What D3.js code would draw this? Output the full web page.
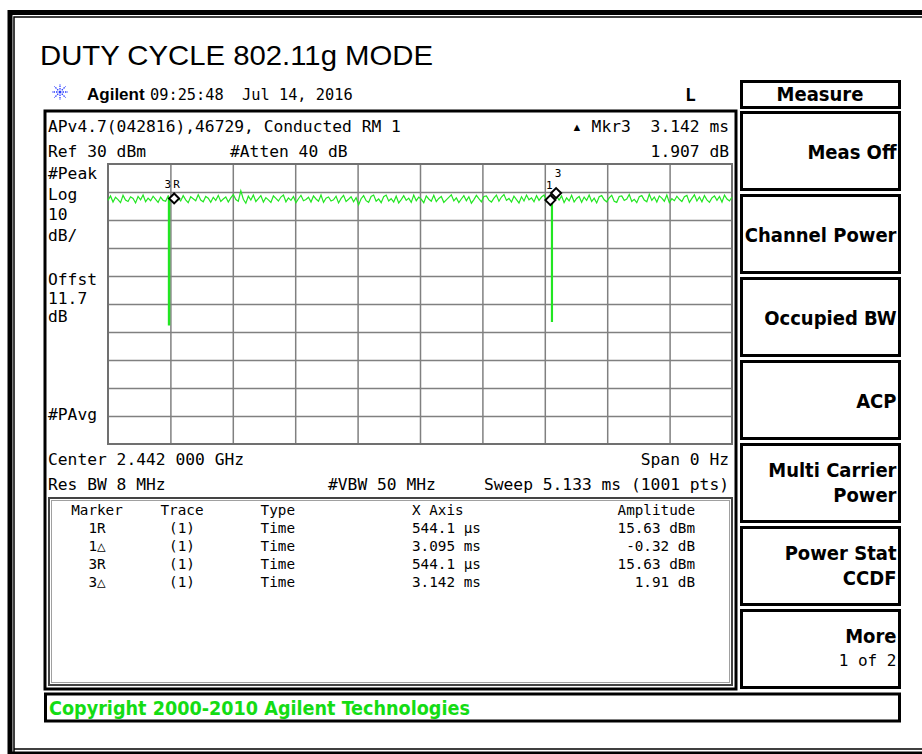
<!DOCTYPE html>
<html>
<head>
<meta charset="utf-8" />
<style>
  body { margin: 0; background: #fff; }
  svg { display: block; }
  .mono { font-family: "DejaVu Sans Mono", monospace; fill: #000; }
  .key { font-family: "DejaVu Sans Condensed", "DejaVu Sans", sans-serif; font-weight: bold; font-stretch: condensed; }
  .grid line { stroke: #808080; stroke-width: 1.5; }
  .grid path { display: none; }
</style>
</head>
<body>
<svg width="922" height="754"></svg>
<script src="https://cdn.jsdelivr.net/npm/d3@7"></script>
<script>
// sweep / display settings
var sweepUs = 5133;
var refLevel = 30;
var dbPerDiv = 10;
var divisions = 10;

// trace levels (dBm, display), evenly spaced over the sweep
var traceLevels = [
  17.0,18.6,16.4,18.1,17.3,16.2,18.8,17.1,16.6,18.3,
  17.7,16.1,18.4,17.2,18.9,16.5,17.8,16.9,18.5,17.4,
  16.3,18.2,17.0,16.7,18.6,17.5,16.4,18.0,17.9,16.8,
  18.7,17.2,16.2,18.3,17.6,16.9,19.0,17.1,16.5,18.4,
  17.8,16.3,18.1,17.0,18.8,16.6,17.5,18.2,16.4,17.9,
  19.1,17.3,16.7,20.4,17.4,16.0,18.5,17.1,18.9,16.6,
  17.6,18.7,16.4,18.0,17.2,16.3,18.6,17.7,16.8,18.2,
  18.9,16.5,17.9,17.0,18.4,16.2,17.6,18.8,16.9,17.3,
  18.1,16.4,18.6,17.5,16.7,18.9,16.3,17.8,18.2,16.8,
  17.2,18.5,16.1,17.7,18.8,16.6,17.4,18.3,16.5,18.0,
  15.4,17.6,18.7,16.9,16.3,18.4,18.9,16.7,17.5,16.2,
  18.3,18.9,16.8,17.6,16.4,18.5,16.1,17.3,18.7,17.0,
  17.8,16.3,18.9,16.9,18.2,17.4,16.2,18.6,17.5,16.7,
  18.8,16.6,17.7,18.4,16.3,17.2,18.1,19.0,16.8,17.9,
  16.2,17.5,18.7,16.9,18.3,16.0,17.3,18.8,17.6,16.5,
  18.4,18.6,17.1,16.4,17.8,18.9,16.7,18.2,19.1,17.0,
  17.7,16.4,18.5,17.3,16.1,18.3,16.8,18.9,17.2,17.9,
  16.5,18.7,17.0,18.2,18.9,16.6,17.6,19.6,17.3,18.5,
  17.1,18.6,16.2,17.9,16.8,18.8,16.4,17.7,18.4,16.3,
  18.2,17.0,18.9,16.6,17.8,16.1,18.3,18.7,17.2,16.5,
  17.9,18.8,16.7,16.3,18.4,18.6,17.0,17.5,19.1,16.6,
  17.4,16.2,18.3,18.7,17.1,16.5,19.2,17.0,18.2,16.4,
  18.6,17.8,16.7,18.9,16.2,17.6,16.9,18.5,17.4,16.6,
  18.3,18.8,16.3,17.7,19.0,16.8,18.2,16.5,18.7,17.2,
  16.3,17.9,18.6,17.0,18.4,16.4,18.9,17.5,16.8,18.2
];

// off-time gaps of the burst (us) and how deep they drop (dBm)
var gapStart = [497, 3648];
var gapEnd = [507, 3656];
var gapFloor = [-27.5, -26.4];

// markers on the trace
var markerTimes = [544.1, 3639.2, 3686.1];
var markerLevels = [17.7, 17.1, 19.6];
var markerTags = ["3R", "1", "3"];

// marker table
var tableHead = ["Marker", "Trace", "Type", "X Axis", "Amplitude"];
var tableMarker = ["1R", "1\u25B3", "3R", "3\u25B3"];
var tableTrace = ["(1)", "(1)", "(1)", "(1)"];
var tableType = ["Time", "Time", "Time", "Time"];
var tableX = ["544.1 \u00B5s", "3.095 ms", "544.1 \u00B5s", "3.142 ms"];
var tableAmp = ["15.63 dBm", "-0.32 dB", "15.63 dBm", "1.91 dB"];

var softkeys = [["Meas Off"], ["Channel Power"], ["Occupied BW"], ["ACP"],
                ["Multi Carrier", "Power"], ["Power Stat", "CCDF"], ["More", "1 of 2"]];

var svg = d3.select("svg");

// outer page border
svg.append("rect").attr("x", 0).attr("y", 0).attr("width", 922).attr("height", 754).attr("fill", "#fff");
svg.append("path").attr("d", "M10,754 V12.5 H922").attr("fill", "none").attr("stroke", "#000").attr("stroke-width", 5);
svg.append("path").attr("d", "M14,754 V17 H922").attr("fill", "none").attr("stroke", "#000").attr("stroke-width", 1.5);
svg.append("line").attr("x1", 14).attr("x2", 922).attr("y1", 749).attr("y2", 749).attr("stroke", "#000").attr("stroke-width", 1.5);
svg.append("line").attr("x1", 10).attr("x2", 922).attr("y1", 753).attr("y2", 753).attr("stroke", "#000").attr("stroke-width", 3);

svg.append("text").attr("x", 40).attr("y", 65)
    .style("font-family", "'Liberation Sans', Arial, sans-serif").style("font-size", "28.5px")
    .attr("textLength", 393).attr("lengthAdjust", "spacingAndGlyphs")
    .text("DUTY CYCLE 802.11g MODE");

// agilent star
var star = svg.append("g").attr("transform", "translate(60,92)");
d3.range(8).forEach(function (k) {
    var a = k * Math.PI / 4;
    star.append("line").attr("x1", Math.cos(a) * 2.5).attr("y1", Math.sin(a) * 2.5)
        .attr("x2", Math.cos(a) * 8).attr("y2", Math.sin(a) * 8)
        .attr("stroke", "#2a3cff").attr("stroke-width", 1.3).attr("stroke-dasharray", "1.5,1");
});
star.append("circle").attr("r", 1.5).attr("fill", "#2a3cff");

svg.append("text").attr("x", 87).attr("y", 100)
    .style("font-family", "'Liberation Sans', Arial, sans-serif").style("font-weight", "bold").style("font-size", "17px")
    .text("Agilent");
svg.append("text").attr("class", "mono").attr("x", 150).attr("y", 100).style("font-size", "15.3px")
    .attr("xml:space", "preserve").text("09:25:48  Jul 14, 2016");
svg.append("text").attr("class", "mono").attr("x", 685).attr("y", 101).style("font-size", "18px").style("font-weight", "bold").text("L");

// instrument frame
svg.append("rect").attr("x", 45).attr("y", 111).attr("width", 691).attr("height", 578)
    .attr("fill", "none").attr("stroke", "#000").attr("stroke-width", 3);

function monoText(x, y, s, anchor, size) {
    svg.append("text").attr("class", "mono").attr("x", x).attr("y", y)
        .attr("text-anchor", anchor || "start").attr("xml:space", "preserve")
        .style("font-size", (size || 16.3) + "px").text(s);
}

monoText(48, 132, "APv4.7(042816),46729, Conducted RM 1");
monoText(48, 157, "Ref 30 dBm");
monoText(230, 157, "#Atten 40 dB");
monoText(572, 132, "\u25B4 Mkr3", "start");
monoText(729, 132, "3.142 ms", "end");
monoText(729, 157, "1.907 dB", "end");
monoText(48, 179, "#Peak");
monoText(48, 200, "Log");
monoText(48, 220, "10");
monoText(48, 241, "dB/");
monoText(48, 285, "Offst");
monoText(48, 304, "11.7");
monoText(48, 322, "dB");
monoText(48, 420, "#PAvg");
monoText(48, 465, "Center 2.442 000 GHz");
monoText(729, 465, "Span 0 Hz", "end");
monoText(48, 490, "Res BW 8 MHz");
monoText(328, 490, "#VBW 50 MHz");
monoText(729, 490, "Sweep 5.133 ms (1001 pts)", "end");

// plot
var x = d3.scaleLinear().domain([0, sweepUs]).range([108, 732]);
var y = d3.scaleLinear().domain([refLevel - dbPerDiv * divisions, refLevel]).range([444, 164]);

var xDivs = d3.range(1, divisions).map(function (i) { return i * sweepUs / divisions; });
var yDivs = d3.range(1, divisions).map(function (i) { return refLevel - i * dbPerDiv; });

svg.append("g").attr("class", "grid").attr("transform", "translate(0,444)")
    .call(d3.axisBottom(x).tickValues(xDivs).tickSize(-280).tickFormat(""));
svg.append("g").attr("class", "grid").attr("transform", "translate(108,0)")
    .call(d3.axisLeft(y).tickValues(yDivs).tickSize(-624).tickFormat(""));
svg.append("rect").attr("x", x(0)).attr("y", y(refLevel)).attr("width", x(sweepUs) - x(0))
    .attr("height", y(refLevel - dbPerDiv * divisions) - y(refLevel))
    .attr("fill", "none").attr("stroke", "#707070").attr("stroke-width", 2);

var step = sweepUs / (traceLevels.length - 1);
var pts = traceLevels.map(function (v, i) { return [i * step, v]; });
gapStart.forEach(function (s, k) {
    var e = gapEnd[k];
    pts.push([s, traceLevels[Math.floor(s / step)]]);
    pts.push([s, gapFloor[k]]);
    pts.push([e, gapFloor[k]]);
    pts.push([e, traceLevels[Math.ceil(e / step)]]);
});
pts.sort(function (a, b) { return a[0] - b[0]; });

svg.append("path").datum(pts)
    .attr("d", d3.line().x(function (d) { return x(d[0]); }).y(function (d) { return y(d[1]); }))
    .attr("fill", "none").attr("stroke", "#22e622").attr("stroke-width", 1.2);

// markers
var mk = svg.append("g").selectAll("g").data(markerTimes).enter().append("g")
    .attr("transform", function (d, i) { return "translate(" + x(d) + "," + y(markerLevels[i]) + ")"; });
mk.append("path").attr("d", "M0,-5 L5,0 L0,5 L-5,0 Z")
    .attr("fill", "#fff").attr("stroke", "#000").attr("stroke-width", 2);
mk.append("text").attr("class", "mono")
    .attr("x", function (d, i) { return i === 2 ? 2 : -1; })
    .attr("y", function (d, i) { return i === 0 ? -10 : (i === 1 ? -11 : -16); })
    .attr("text-anchor", "middle").style("font-size", "11px").style("letter-spacing", function (d, i) { return i === 0 ? "2px" : "0"; })
    .text(function (d, i) { return markerTags[i]; });

// marker table
svg.append("rect").attr("x", 49).attr("y", 498).attr("width", 683).attr("height", 187)
    .attr("fill", "none").attr("stroke", "#444").attr("stroke-width", 2);
svg.append("rect").attr("x", 51.5).attr("y", 500.5).attr("width", 678).attr("height", 182)
    .attr("fill", "none").attr("stroke", "#a0a0a0").attr("stroke-width", 1);

var cols = [
    {x: 97, a: "middle", v: tableMarker},
    {x: 182, a: "middle", v: tableTrace},
    {x: 295, a: "end", v: tableType},
    {x: 412, a: "start", v: tableX},
    {x: 695, a: "end", v: tableAmp}
];
cols.forEach(function (c, j) {
    monoText(c.x, 515, tableHead[j], c.a, 14.3);
    c.v.forEach(function (s, r) { monoText(c.x, 533 + r * 18, s, c.a, 14.3); });
});

// softkeys
svg.append("rect").attr("x", 741.5).attr("y", 81.5).attr("width", 158).attr("height", 26)
    .attr("fill", "none").attr("stroke", "#000").attr("stroke-width", 3);
svg.append("text").attr("class", "key").attr("x", 820).attr("y", 101).attr("text-anchor", "middle")
    .style("font-size", "20px").text("Measure");

var keys = svg.append("g").selectAll("g").data(softkeys).enter().append("g")
    .attr("transform", function (d, i) { return "translate(741.5," + (112.5 + i * 83) + ")"; });
keys.append("rect").attr("width", 158).attr("height", 77)
    .attr("fill", "none").attr("stroke", "#000").attr("stroke-width", 3);
keys.each(function (d, i) {
    var g = d3.select(this);
    if (d.length === 1) {
        g.append("text").attr("class", "key").attr("x", 155).attr("y", 46).attr("text-anchor", "end")
            .style("font-size", "20px").text(d[0]);
    } else {
        g.append("text").attr("class", "key").attr("x", 155).attr("y", 32).attr("text-anchor", "end")
            .style("font-size", "20px").text(d[0]);
        if (i === softkeys.length - 1) {
            g.append("text").attr("class", "mono").attr("x", 155).attr("y", 55).attr("text-anchor", "end")
                .style("font-size", "16px").text(d[1]);
        } else {
            g.append("text").attr("class", "key").attr("x", 155).attr("y", 57).attr("text-anchor", "end")
                .style("font-size", "20px").text(d[1]);
        }
    }
});

// footer
svg.append("rect").attr("x", 45.5).attr("y", 694).attr("width", 854).attr("height", 27)
    .attr("fill", "none").attr("stroke", "#000").attr("stroke-width", 3);
svg.append("text").attr("x", 49).attr("y", 715).attr("class", "key")
    .style("font-size", "19px").style("fill", "#14dc14")
    .attr("textLength", 421).attr("lengthAdjust", "spacingAndGlyphs")
    .text("Copyright 2000-2010 Agilent Technologies");
</script>
</body>
</html>
